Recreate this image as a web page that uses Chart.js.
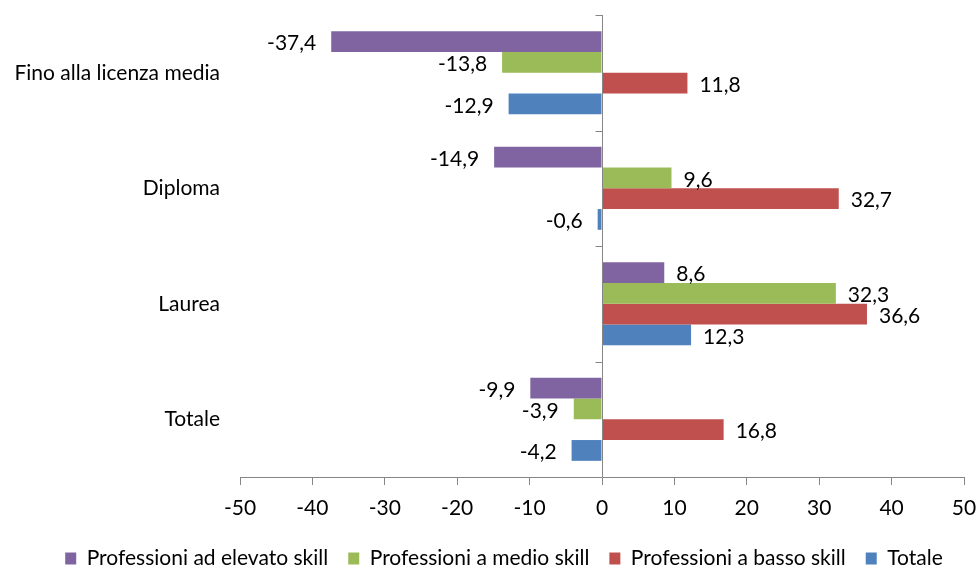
<!DOCTYPE html>
<html>
<head>
<meta charset="utf-8">
<script src="https://cdn.jsdelivr.net/npm/chart.js@4"></script>
<style>
  body { margin: 0; background: #fff; }
</style>
</head>
<body>
<canvas id="graficoSkill" width="979" height="567"></canvas>
<script>
var categorie = ['Fino alla licenza media', 'Diploma', 'Laurea', 'Totale'];
var elevatoSkill = [-37.4, -14.9, 8.6, -9.9];
var medioSkill = [-13.8, 9.6, 32.3, -3.9];
var bassoSkill = [11.8, 32.7, 36.6, 16.8];
var totale = [-12.9, -0.6, 12.3, -4.2];
var tickX = [-50, -40, -30, -20, -10, 0, 10, 20, 30, 40, 50];

var font = 'Lato, "Liberation Sans", sans-serif';
var grigioAsse = '#868686';

function numeroIt(v) {
    return v.toFixed(1).replace('.', ',');
}

// asse verticale sullo zero con le tacche tra le categorie
var asseZero = {
    id: 'asseZero',
    afterDatasetsDraw: function (chart) {
        var ctx = chart.ctx;
        var area = chart.chartArea;
        var x0 = Math.round(chart.scales.x.getPixelForValue(0)) + 0.5;
        var n = categorie.length;
        var passo = (area.bottom - area.top) / n;
        ctx.save();
        ctx.strokeStyle = grigioAsse;
        ctx.lineWidth = 1;
        ctx.beginPath();
        ctx.moveTo(x0, area.top);
        ctx.lineTo(x0, area.bottom);
        for (var i = 0; i < n; i++) {
            var y = Math.round(area.top + i * passo) + 0.5;
            ctx.moveTo(x0 - 7, y);
            ctx.lineTo(x0, y);
        }
        ctx.stroke();
        ctx.restore();
    }
};

// etichette dei valori fuori dall'estremo della barra
var etichetteValori = {
    id: 'etichetteValori',
    afterDatasetsDraw: function (chart) {
        var ctx = chart.ctx;
        ctx.save();
        ctx.font = '21px ' + font;
        ctx.fillStyle = '#000';
        ctx.textBaseline = 'middle';
        chart.data.datasets.forEach(function (ds, i) {
            chart.getDatasetMeta(i).data.forEach(function (bar, j) {
                var v = ds.data[j];
                if (v < 0) {
                    ctx.textAlign = 'right';
                    ctx.fillText(numeroIt(v), bar.x - 15, bar.y + 2);
                } else {
                    ctx.textAlign = 'left';
                    ctx.fillText(numeroIt(v), bar.x + 12, bar.y + 2);
                }
            });
        });
        ctx.restore();
    }
};

// legenda un po' spostata a destra
var spostaLegenda = {
    id: 'spostaLegenda',
    afterLayout: function (chart) {
        chart.legend.left += 22;
        chart.legend.right += 22;
    }
};

var data = {
    labels: categorie,
    datasets: [
        { label: 'Professioni ad elevato skill', data: elevatoSkill, backgroundColor: '#8064A2' },
        { label: 'Professioni a medio skill', data: medioSkill, backgroundColor: '#9BBB59' },
        { label: 'Professioni a basso skill', data: bassoSkill, backgroundColor: '#C0504D' },
        { label: 'Totale', data: totale, backgroundColor: '#4F81BD' }
    ]
};

var options = {
    indexAxis: 'y',
    responsive: false,
    animation: false,
    layout: { padding: { top: 15, right: 15, left: 0, bottom: -12 } },
    datasets: {
        bar: { categoryPercentage: 0.72, barPercentage: 1 }
    },
    scales: {
        x: {
            min: -50,
            max: 50,
            afterBuildTicks: function (scale) {
                scale.ticks = tickX.map(function (v) { return { value: v }; });
            },
            grid: { drawOnChartArea: false, drawTicks: true, tickLength: 8, color: grigioAsse },
            border: { color: grigioAsse },
            ticks: { color: '#000', font: { family: font, size: 21 }, padding: 11 },
            afterFit: function (scale) {
                scale.height = 51;
                scale.paddingLeft = 0;
                scale.paddingRight = 0;
            }
        },
        y: {
            grid: { drawOnChartArea: false, drawTicks: true, tickLength: 20, color: 'rgba(0,0,0,0)' },
            border: { display: false },
            ticks: { color: '#000', font: { family: font, size: 21 }, padding: 0 },
            afterFit: function (scale) { scale.width = 240; }
        }
    },
    plugins: {
        legend: {
            position: 'bottom',
            labels: {
                color: '#000',
                font: { family: font, size: 21 },
                boxWidth: 11,
                boxHeight: 12,
                padding: 20
            }
        },
        tooltip: { enabled: false }
    }
};

new Chart(document.getElementById('graficoSkill'), {
    type: 'bar',
    data: data,
    options: options,
    plugins: [asseZero, etichetteValori, spostaLegenda]
});
</script>
</body>
</html>
